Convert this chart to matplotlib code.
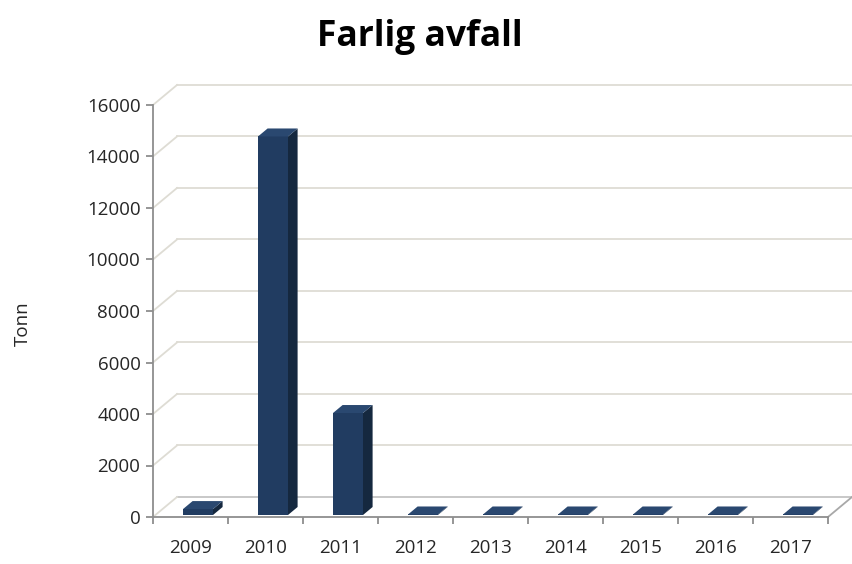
import numpy as np
import matplotlib.pyplot as plt
from matplotlib.patches import Polygon

plt.rcParams['font.family'] = ['Open Sans', 'DejaVu Sans']

years = ["2009", "2010", "2011", "2012", "2013", "2014", "2015", "2016", "2017"]
tonn = [230, 14700, 3960, 20, 20, 20, 20, 20, 20]
y_ticks = [0, 2000, 4000, 6000, 8000, 10000, 12000, 14000, 16000]

# pseudo-3d settings (data units)
ymax = 16000
dx = 0.32          # depth offset in category units
dy = 777           # depth offset in value units
f0, f1 = 0.1, 0.5  # bar front / back position inside the depth
bar_w = 0.4

front_col = "#213c61"
side_col = "#15283f"
top_col = "#2a4870"
grid_col = "#dedcd4"
axis_col = "#8e8e8e"
text_col = "#262626"

fig = plt.figure(figsize=(8.52, 5.64), dpi=100)
ax = fig.add_axes([153 / 852, 47 / 564, 675 / 852, 412 / 564])
ax.set_xlim(0, len(years))
ax.set_ylim(0, ymax)

# back wall gridlines + left wall diagonals
for v in y_ticks:
    col = "#c4c4c4" if v == 0 else grid_col
    ax.plot([dx, len(years) + dx], [v + dy, v + dy], color=col, lw=1.3,
            clip_on=False, zorder=1)
    ax.plot([0, dx], [v, v + dy], color=grid_col, lw=1.3, clip_on=False, zorder=1)

# floor outline
ax.plot([len(years), len(years) + dx], [0, dy], color="#a8a8a8", lw=1.3,
        clip_on=False, zorder=1)

# bars
x = np.arange(len(years))
base = f0 * dy
ddx = (f1 - f0) * dx
ddy = (f1 - f0) * dy
ax.bar(x + 0.4, tonn, width=bar_w, bottom=base, align="edge", color=front_col,
       zorder=3, clip_on=False)
for i, v in enumerate(tonn):
    x0 = i + 0.4
    x1 = x0 + bar_w
    top = base + v
    side = Polygon([(x1, base), (x1 + ddx, base + ddy), (x1 + ddx, top + ddy), (x1, top)],
                   closed=True, facecolor=side_col, edgecolor="none", zorder=3, clip_on=False)
    lid = Polygon([(x0, top), (x1, top), (x1 + ddx, top + ddy), (x0 + ddx, top + ddy)],
                  closed=True, facecolor=top_col, edgecolor="none", zorder=4, clip_on=False)
    ax.add_patch(side)
    ax.add_patch(lid)

# axes
for s in ["top", "right"]:
    ax.spines[s].set_visible(False)
for s in ["left", "bottom"]:
    ax.spines[s].set_color(axis_col)
    ax.spines[s].set_linewidth(1.3)

ax.set_yticks(y_ticks)
ax.set_yticklabels([str(v) for v in y_ticks])
ax.set_xticks(np.arange(len(years) + 1))
ax.set_xticklabels([])
ax.set_xticks(x + 0.5, minor=True)
ax.set_xticklabels(years, minor=True)
ax.tick_params(axis="both", which="major", length=5, width=1.3, color=axis_col,
               labelsize=13.5, labelcolor=text_col)
ax.tick_params(axis="x", which="minor", length=0, pad=16, labelsize=13.5,
               labelcolor=text_col)
ax.tick_params(axis="y", pad=4)

ax.set_ylabel("Tonn", fontsize=13.5, color=text_col)
ax.yaxis.set_label_coords(-0.18, 0.47)
fig.text(0.493, 0.935, "Farlig avfall", ha="center", va="center",
         fontsize=25.5, fontweight="bold", color="black")

fig.savefig("out.png", dpi=100)
